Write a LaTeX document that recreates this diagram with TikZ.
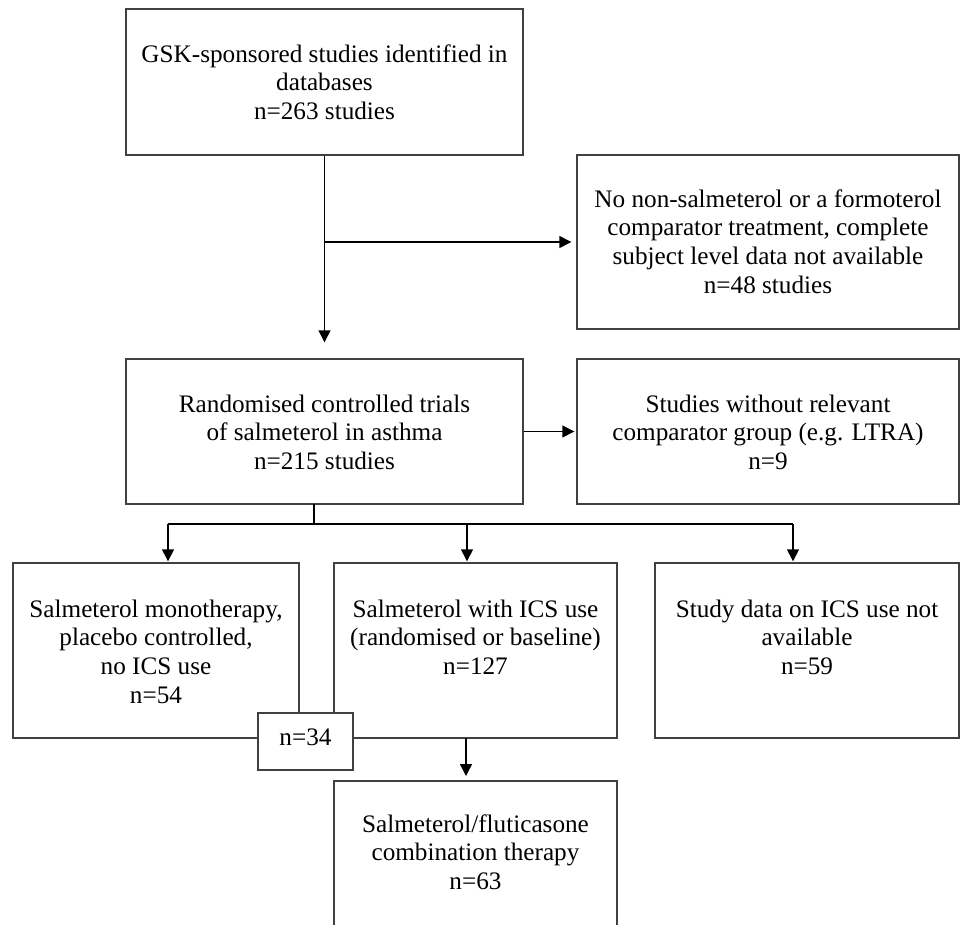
\documentclass[tikz,border=0pt]{standalone}
\usepackage{fontspec}
\setmainfont{Liberation Serif}
\usetikzlibrary{arrows.meta}
\begin{document}
\begin{tikzpicture}[x=1pt,y=-1pt,
  boxst/.style={draw=black!75, line width=1.4pt, inner sep=0pt, fill=white},
  txt/.style={inner sep=0pt, anchor=north, align=center, font=\fontsize{25.2}{28.6}\selectfont},
  arr/.style={draw=black, line width=1.4pt, -{Triangle[length=12pt,width=12pt]}},
  ln/.style={draw=black, line width=1.4pt}]
\useasboundingbox[fill=white] (0,0) rectangle (966,924);
\clip (0,0) rectangle (966,924);
% boxes
\node[boxst, minimum width=397pt, minimum height=146pt] (b1) at (324.5,82) {};
\node[boxst, minimum width=382pt, minimum height=174pt] (b2) at (768,242) {};
\node[boxst, minimum width=397pt, minimum height=145pt] (b3) at (324.5,431.5) {};
\node[boxst, minimum width=382pt, minimum height=145pt] (b4) at (768,431.5) {};
\node[boxst, minimum width=286pt, minimum height=175pt] (b5) at (156,650.5) {};
\node[boxst, minimum width=283pt, minimum height=175pt] (b6) at (475.5,650.5) {};
\node[boxst, minimum width=304pt, minimum height=175pt] (b7) at (807,650.5) {};
\node[boxst, minimum width=283pt, minimum height=175pt] (b8) at (475.5,868.5) {};
\node[boxst, minimum width=95pt, minimum height=57pt] (b9) at (305.5,741.5) {};
% texts
\node[txt] (t1) at (324.5,42) {\strut GSK-sponsored studies identified in\\databases\\n=263 studies};
\node[txt] (t2) at (768,187) {\strut No non-salmeterol or a formoterol\\comparator treatment, complete\\subject level data not available\\n=48 studies};
\node[txt] (t3) at (324.5,392) {\strut Randomised controlled trials\\of salmeterol in asthma\\n=215 studies};
\node[txt] (t4) at (768,392) {\strut Studies without relevant\\comparator group (e.g. LTRA)\\n=9};
\node[txt] (t5) at (156,597) {\strut Salmeterol monotherapy,\\placebo controlled,\\no ICS use\\n=54};
\node[txt] (t6) at (475.5,597) {\strut Salmeterol with ICS use\\(randomised or baseline)\\n=127};
\node[txt] (t7) at (807,597) {\strut Study data on ICS use not\\available\\n=59};
\node[txt] (t8) at (475.5,812) {\strut Salmeterol/fluticasone\\combination therapy\\n=63};
\node[txt, anchor=base] (t9) at (305.5,745) {n=34};
% connectors
\coordinate (j1) at (324.5,242);
\coordinate (j2) at (314,504);
\coordinate (j3) at (314,524);
\coordinate (jl) at (168,524);
\coordinate (jm) at (467,524);
\coordinate (jr) at (793,524);
\draw[arr] (b1.south) -- ([yshift=16pt]b3.north);
\draw[arr] (j1) -- ([xshift=-5pt]b2.west);
\draw[arr] (b3.east) -- ([xshift=-2pt]b4.west);
\draw[ln] (j2) -- (j3);
\draw[ln] (jl) -- (jr);
\draw[arr] (jl) -- ([yshift=1pt]jl |- b5.north);
\draw[arr] (jm) -- ([yshift=1pt]jm |- b6.north);
\draw[arr] (jr) -- ([yshift=1pt]jr |- b7.north);
\draw[arr] (466,738) -- ([yshift=5pt]466,781);
\end{tikzpicture}
\end{document}
